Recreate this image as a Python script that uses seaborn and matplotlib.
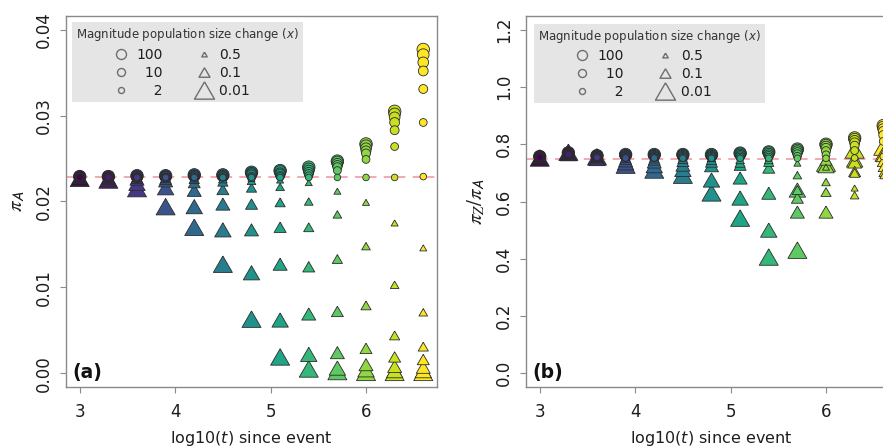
import numpy as np
import pandas as pd
import matplotlib
matplotlib.use("Agg")
import matplotlib.pyplot as plt
from matplotlib.lines import Line2D
import seaborn as sns

# ---------------- data ----------------
log10_t = [3.0, 3.3, 3.6, 3.9, 4.2, 4.5, 4.8, 5.1, 5.4, 5.7, 6.0, 6.3, 6.6]

# growth (circles)
circle_mags = ["100", "50", "20", "10", "5", "2", "1.1"]
# decline (triangles)
triangle_mags = ["0.5", "0.33", "0.2", "0.1", "0.05", "0.02", "0.01"]

# panel (a): pi_A
piA_c100 = [0.0229, 0.0229, 0.0230, 0.0230, 0.0231, 0.0231, 0.0234, 0.0236, 0.0240, 0.0247, 0.0267, 0.0305, 0.0377]
piA_c50 = [0.0229, 0.0229, 0.0229, 0.0229, 0.0230, 0.0230, 0.0233, 0.0235, 0.0238, 0.0246, 0.0265, 0.0302, 0.0371]
piA_c20 = [0.0229, 0.0228, 0.0229, 0.0229, 0.0230, 0.0230, 0.0232, 0.0233, 0.0236, 0.0244, 0.0262, 0.0298, 0.0362]
piA_c10 = [0.0228, 0.0228, 0.0228, 0.0229, 0.0229, 0.0229, 0.0231, 0.0232, 0.0234, 0.0242, 0.0259, 0.0292, 0.0352]
piA_c5 = [0.0228, 0.0228, 0.0228, 0.0228, 0.0229, 0.0229, 0.0229, 0.0230, 0.0232, 0.0240, 0.0256, 0.0283, 0.0331]
piA_c2 = [0.0228, 0.0228, 0.0228, 0.0228, 0.0228, 0.0228, 0.0228, 0.0229, 0.0230, 0.0236, 0.0249, 0.0264, 0.0292]
piA_c1 = [0.0228, 0.0228, 0.0228, 0.0228, 0.0228, 0.0228, 0.0228, 0.0228, 0.0228, 0.0228, 0.0228, 0.0228, 0.0229]

piA_t0p5 = [0.0229, 0.0229, 0.0229, 0.0229, 0.0228, 0.0228, 0.0227, 0.0225, 0.0222, 0.0212, 0.0199, 0.0175, 0.0146]
piA_t0p33 = [0.0229, 0.0228, 0.0228, 0.0228, 0.0227, 0.0226, 0.0224, 0.0217, 0.0200, 0.0185, 0.0148, 0.0103, 0.0071]
piA_t0p2 = [0.0228, 0.0228, 0.0228, 0.0227, 0.0226, 0.0223, 0.0216, 0.0199, 0.0170, 0.0133, 0.0079, 0.0044, 0.0031]
piA_t0p1 = [0.0228, 0.0227, 0.0227, 0.0226, 0.0222, 0.0214, 0.0197, 0.0170, 0.0124, 0.0072, 0.0029, 0.0019, 0.0016]
piA_t0p05 = [0.0228, 0.0227, 0.0226, 0.0224, 0.0213, 0.0197, 0.0167, 0.0127, 0.0069, 0.0024, 0.0010, 0.0008, 0.0007]
piA_t0p02 = [0.0227, 0.0226, 0.0221, 0.0216, 0.0194, 0.0167, 0.0117, 0.0062, 0.0022, 0.0006, 0.0004, 0.0003, 0.0003]
piA_t0p01 = [0.0227, 0.0225, 0.0215, 0.0194, 0.0170, 0.0127, 0.0063, 0.0019, 0.0005, 0.0002, 0.0001, 0.0001, 0.0001]

# panel (b): pi_Z / pi_A
ratio_c100 = [0.757, 0.770, 0.760, 0.764, 0.764, 0.764, 0.764, 0.769, 0.773, 0.783, 0.800, 0.822, 0.865]
ratio_c50 = [0.757, 0.769, 0.759, 0.762, 0.762, 0.762, 0.762, 0.767, 0.771, 0.780, 0.797, 0.818, 0.860]
ratio_c20 = [0.756, 0.768, 0.758, 0.760, 0.760, 0.760, 0.760, 0.764, 0.767, 0.776, 0.792, 0.812, 0.853]
ratio_c10 = [0.756, 0.767, 0.757, 0.758, 0.758, 0.758, 0.758, 0.761, 0.763, 0.771, 0.786, 0.805, 0.845]
ratio_c5 = [0.755, 0.766, 0.756, 0.756, 0.756, 0.756, 0.756, 0.758, 0.759, 0.765, 0.776, 0.795, 0.832]
ratio_c2 = [0.755, 0.765, 0.755, 0.754, 0.754, 0.754, 0.754, 0.755, 0.755, 0.758, 0.763, 0.778, 0.810]
ratio_c1 = [0.754, 0.764, 0.754, 0.752, 0.752, 0.751, 0.751, 0.751, 0.751, 0.751, 0.751, 0.752, 0.757]

ratio_t0p5 = [0.757, 0.770, 0.757, 0.758, 0.758, 0.757, 0.757, 0.755, 0.752, 0.734, 0.720, 0.647, 0.690]
ratio_t0p33 = [0.756, 0.770, 0.756, 0.756, 0.755, 0.754, 0.752, 0.745, 0.745, 0.692, 0.668, 0.622, 0.700]
ratio_t0p2 = [0.755, 0.769, 0.755, 0.752, 0.750, 0.748, 0.745, 0.735, 0.738, 0.640, 0.633, 0.700, 0.720]
ratio_t0p1 = [0.754, 0.768, 0.754, 0.748, 0.745, 0.740, 0.738, 0.727, 0.717, 0.612, 0.745, 0.705, 0.740]
ratio_t0p05 = [0.753, 0.767, 0.752, 0.742, 0.738, 0.727, 0.725, 0.682, 0.629, 0.563, 0.563, 0.738, 0.760]
ratio_t0p02 = [0.752, 0.767, 0.750, 0.735, 0.725, 0.712, 0.675, 0.612, 0.500, 0.640, 0.725, 0.745, 0.765]
ratio_t0p01 = [0.752, 0.772, 0.756, 0.727, 0.710, 0.692, 0.630, 0.542, 0.406, 0.430, 0.734, 0.780, 0.790]

piA_reference = 0.0228
ratio_reference = 0.75

panel_a = {
    "100": piA_c100, "50": piA_c50, "20": piA_c20, "10": piA_c10, "5": piA_c5,
    "2": piA_c2, "1.1": piA_c1,
    "0.5": piA_t0p5, "0.33": piA_t0p33, "0.2": piA_t0p2, "0.1": piA_t0p1,
    "0.05": piA_t0p05, "0.02": piA_t0p02, "0.01": piA_t0p01,
}
panel_b = {
    "100": ratio_c100, "50": ratio_c50, "20": ratio_c20, "10": ratio_c10, "5": ratio_c5,
    "2": ratio_c2, "1.1": ratio_c1,
    "0.5": ratio_t0p5, "0.33": ratio_t0p33, "0.2": ratio_t0p2, "0.1": ratio_t0p1,
    "0.05": ratio_t0p05, "0.02": ratio_t0p02, "0.01": ratio_t0p01,
}

# ---------------- styles ----------------
PX = 0.72  # points per pixel at 100 dpi
marker_px = {
    "100": 12.5, "50": 11.6, "20": 10.7, "10": 9.8, "5": 8.9, "2": 7.8, "1.1": 6.6,
    "0.5": 7.0, "0.33": 8.6, "0.2": 10.2, "0.1": 12.0, "0.05": 14.0, "0.02": 16.4, "0.01": 19.0,
}
size_map = {k: (v * PX) ** 2 for k, v in marker_px.items()}

# equilateral, R-like triangle (width 1, height 0.866)
TRI = [(0.0, 0.433), (-0.5, -0.433), (0.5, -0.433), (0.0, 0.433)]


def build_frame(panel):
    rows = []
    for mag, vals in panel.items():
        shape = "circle" if mag in circle_mags else "triangle"
        for t, v in zip(log10_t, vals):
            rows.append({"log10t": t, "value": v, "mag": mag, "shape": shape,
                         "px": marker_px[mag]})
    df = pd.DataFrame(rows)
    # draw larger markers first so smaller ones sit on top
    df = df.sort_values("px", ascending=False, kind="stable").reset_index(drop=True)
    return df


sns.set_style("white")
plt.rcParams["font.family"] = ["DejaVu Sans"]
plt.rcParams["mathtext.fontset"] = "dejavusans"

fig = plt.figure(figsize=(8.83, 4.47), dpi=100)
W, H = 883.0, 447.0
ax_a = fig.add_axes([66 / W, (H - 387) / H, 371 / W, 371 / H])
ax_b = fig.add_axes([526 / W, (H - 387) / H, 371 / W, 371 / H])

spine_col = "#8a8a8a"
text_col = "#1e1e1e"


def style_axis(ax, yticks, ylabels, ylim):
    ax.set_xlim(2.856, 6.744)
    ax.set_ylim(*ylim)
    ax.set_xticks([3, 4, 5, 6])
    ax.set_xticklabels(["3", "4", "5", "6"])
    ax.set_yticks(yticks)
    ax.set_yticklabels(ylabels)
    for s in ax.spines.values():
        s.set_color(spine_col)
        s.set_linewidth(1.0)
    ax.tick_params(axis="both", direction="out", length=4.3, width=0.8,
                   color=spine_col, labelcolor=text_col, labelsize=12,
                   left=True, bottom=True)
    ax.tick_params(axis="x", pad=7)
    ax.tick_params(axis="y", pad=5)
    for lab in ax.get_yticklabels():
        lab.set_rotation(90)
        lab.set_va("center")
    ax.set_xlabel(r"log10($t$) since event", fontsize=11.5, color=text_col, labelpad=6)
    ax.grid(False)


def draw_panel(ax, panel, ref):
    df = build_frame(panel)
    ax.axhline(ref, color="#f4a3ad", lw=1.3, ls=(0, (4, 4)), zorder=1)
    sns.scatterplot(data=df, x="log10t", y="value", hue="log10t", palette="viridis",
                    hue_norm=(3.0, 6.6), style="shape",
                    markers={"circle": "o", "triangle": TRI},
                    size="mag", sizes=size_map, edgecolor="#2b2b2b", linewidth=0.6,
                    legend=False, ax=ax, zorder=3)


def add_legend(ax, axespad):
    edge = "#6e6e6e"
    handles = [
        Line2D([], [], ls="none", marker="o", ms=10 * PX, mfc="none", mec=edge, mew=1.0),
        Line2D([], [], ls="none", marker="o", ms=8 * PX, mfc="none", mec=edge, mew=1.0),
        Line2D([], [], ls="none", marker="o", ms=6 * PX, mfc="none", mec=edge, mew=1.0),
        Line2D([], [], ls="none", marker=TRI, ms=5.5 * PX, mfc="none", mec=edge, mew=1.0),
        Line2D([], [], ls="none", marker=TRI, ms=11 * PX, mfc="none", mec=edge, mew=1.0),
        Line2D([], [], ls="none", marker=TRI, ms=20 * PX, mfc="none", mec=edge, mew=1.0),
    ]
    labels = ["100", "\u200710", "\u2007\u20072", "0.5", "0.1", "0.01\u2007 "]
    leg = ax.legend(handles, labels, ncol=2, loc="upper left", bbox_to_anchor=(0, 1),
                    title=r"Magnitude population size change ($x$)", title_fontsize=8.5,
                    fontsize=10, frameon=True, fancybox=False, framealpha=1,
                    facecolor="#e5e5e5", edgecolor="none", borderaxespad=axespad,
                    borderpad=0.3, handlelength=1.2, handletextpad=0.5,
                    columnspacing=2.4, labelspacing=0.3)
    leg.get_title().set_color("#333333")
    for t in leg.get_texts():
        t.set_color(text_col)
    leg.set_zorder(5)


draw_panel(ax_a, panel_a, piA_reference)
style_axis(ax_a, [0.0, 0.01, 0.02, 0.03, 0.04], ["0.00", "0.01", "0.02", "0.03", "0.04"],
           (-0.0016, 0.0416))
ax_a.set_ylabel(r"$\pi_{\mathsf{A}}$", fontsize=15, color=text_col, labelpad=6,
                math_fontfamily="stix")
add_legend(ax_a, 0.45)
ax_a.text(0.018, 0.038, "(a)", transform=ax_a.transAxes, fontsize=13.5, fontweight="bold",
          ha="left", va="center", color="#111111")

draw_panel(ax_b, panel_b, ratio_reference)
style_axis(ax_b, [0.0, 0.2, 0.4, 0.6, 0.8, 1.0, 1.2],
           ["0.0", "0.2", "0.4", "0.6", "0.8", "1.0", "1.2"], (-0.048, 1.248))
ax_b.set_ylabel(r"$\pi_{Z}/\pi_{\mathsf{A}}$", fontsize=15, color=text_col, labelpad=6,
                math_fontfamily="stix")
add_legend(ax_b, 0.55)
ax_b.text(0.018, 0.038, "(b)", transform=ax_b.transAxes, fontsize=13.5, fontweight="bold",
          ha="left", va="center", color="#111111")

fig.savefig("out.png", dpi=100)
